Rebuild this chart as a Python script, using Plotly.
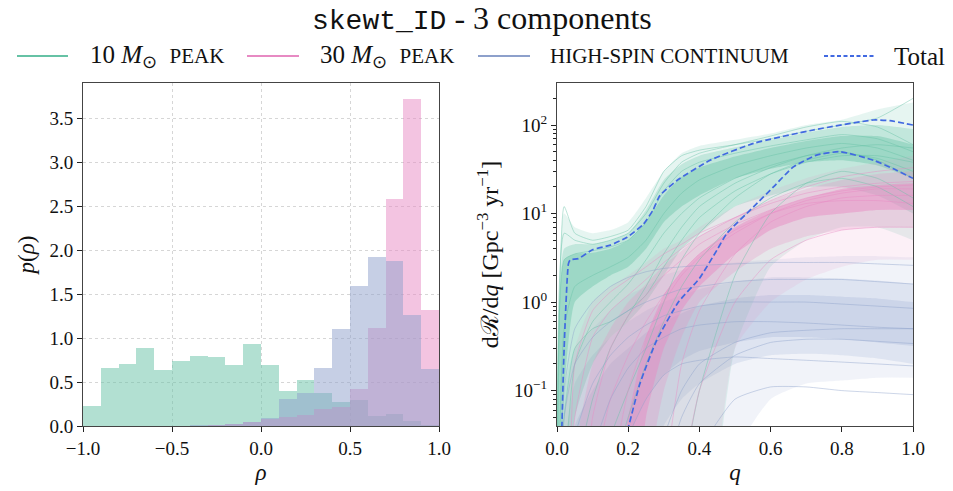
import plotly.graph_objects as go

# ---------------- data ----------------
# left panel: histogram heights p(rho), 20 bins of width 0.1 on [-1, 1]
rho_centers = [-0.95, -0.85, -0.75, -0.65, -0.55, -0.45, -0.35, -0.25, -0.15, -0.05,
               0.05, 0.15, 0.25, 0.35, 0.45, 0.55, 0.65, 0.75, 0.85, 0.95]
hist_10 = [0.23, 0.66, 0.71, 0.89, 0.64, 0.74, 0.80, 0.79, 0.69, 0.93,
           0.69, 0.40, 0.52, 0.37, 0.27, 0.30, 0.11, 0.14, 0.06, 0.01]
hist_30 = [0.00, 0.00, 0.00, 0.00, 0.00, 0.00, 0.00, 0.01, 0.02, 0.04,
           0.08, 0.10, 0.12, 0.19, 0.22, 0.42, 1.12, 2.58, 3.72, 1.32]
hist_hs = [0.00, 0.00, 0.00, 0.00, 0.00, 0.00, 0.01, 0.01, 0.02, 0.05,
           0.09, 0.31, 0.37, 0.66, 1.10, 1.59, 1.92, 1.88, 1.26, 0.65]

# right panel: dR/dq, read at these q values (0.001 = below the plotted range)
q_grid = [0.0, 0.02, 0.05, 0.1, 0.15, 0.2, 0.25, 0.3, 0.35, 0.4, 0.5, 0.6, 0.7, 0.8, 0.9, 1.0]

# envelopes of the sample curves (outer = nearly all curves, mid, core = densest)
g_out_lo = [0.001, 0.001, 0.001, 0.001, 0.001, 0.001, 0.001, 0.001, 0.001, 0.001, 0.3, 2.5, 5, 7, 7, 5]
g_out_hi = [0.001, 10, 7, 6, 6.5, 8, 15, 30, 48, 58, 68, 80, 100, 115, 150, 180]
g_mid_lo = [0.001, 0.001, 0.05, 0.2, 0.4, 0.6, 1.0, 2, 4, 6, 12, 16, 20, 20, 16, 10]
g_mid_hi = [0.001, 4, 4.5, 4.5, 5, 6, 11, 24, 36, 45, 56, 68, 82, 95, 100, 90]
g_core_lo = [0.001, 0.1, 1.0, 1.5, 2.0, 2.5, 4, 8, 12, 16, 25, 32, 38, 40, 35, 25]
g_core_hi = [0.001, 3, 3.5, 3.6, 4, 5, 8, 16, 26, 33, 44, 55, 66, 75, 75, 60]

p_out_lo = [0.001, 0.001, 0.001, 0.001, 0.001, 0.001, 0.001, 0.001, 0.001, 0.001, 0.3, 1.0, 1.8, 2.5, 3, 3]
p_out_hi = [0.001, 0.05, 0.3, 1.0, 1.5, 2.0, 2.8, 4, 5, 7, 12, 18, 25, 32, 38, 45]
p_mid_lo = [0.001, 0.001, 0.001, 0.001, 0.001, 0.001, 0.01, 0.1, 0.4, 1.0, 2.2, 4, 5.5, 6.5, 7, 7]
p_mid_hi = [0.001, 0.001, 0.02, 0.2, 0.5, 1.0, 1.6, 2.6, 3.8, 5.5, 9, 14, 19, 24, 28, 30]
p_core_lo = [0.001, 0.001, 0.001, 0.001, 0.001, 0.001, 0.05, 0.3, 0.8, 1.5, 3.5, 6.5, 9, 10, 11, 11]
p_core_hi = [0.001, 0.001, 0.001, 0.001, 0.005, 0.05, 0.4, 1.2, 2.2, 3.5, 7, 11, 15, 19, 21, 22]

h_out_lo = [0.001, 0.001, 0.001, 0.001, 0.001, 0.001, 0.001, 0.001, 0.001, 0.001, 0.02, 0.08, 0.12, 0.13, 0.14, 0.14]
h_out_hi = [0.001, 0.1, 0.3, 0.5, 0.8, 1.2, 1.5, 2.0, 2.3, 2.5, 2.8, 3.0, 3.2, 3.3, 3.3, 3.2]
h_mid_lo = [0.001, 0.001, 0.001, 0.001, 0.001, 0.001, 0.01, 0.04, 0.08, 0.12, 0.2, 0.25, 0.26, 0.25, 0.23, 0.2]
h_mid_hi = [0.001, 0.02, 0.12, 0.25, 0.4, 0.6, 0.8, 1.0, 1.2, 1.4, 1.7, 1.9, 1.9, 1.85, 1.75, 1.6]
h_core_lo = [0.001, 0.001, 0.001, 0.001, 0.01, 0.03, 0.08, 0.15, 0.22, 0.28, 0.35, 0.4, 0.4, 0.38, 0.35, 0.32]
h_core_hi = [0.001, 0.005, 0.04, 0.1, 0.2, 0.3, 0.45, 0.6, 0.75, 0.9, 1.1, 1.2, 1.2, 1.15, 1.1, 1.0]

# a few individual sample curves per component
g_curves = [
    [0.001, 12, 6, 5, 5.5, 6.5, 12, 30, 45, 52, 60, 70, 85, 100, 120, 200],
    [0.001, 3, 3.5, 3.8, 4.2, 5, 8, 18, 30, 38, 48, 58, 68, 78, 70, 50],
    [0.001, 0.5, 1.5, 2.0, 2.5, 3.2, 5, 10, 17, 24, 35, 45, 55, 62, 55, 40],
    [0.001, 0.01, 0.2, 0.6, 1.0, 1.6, 3, 6, 10, 15, 25, 35, 45, 50, 40, 25],
    [0.001, 0.001, 0.01, 0.08, 0.3, 0.7, 1.5, 3.5, 7, 12, 22, 33, 45, 55, 60, 55],
    [0.001, 0.001, 0.001, 0.005, 0.03, 0.1, 0.3, 1, 3, 6, 15, 28, 40, 48, 42, 30],
    [0.001, 0.001, 0.001, 0.001, 0.001, 0.001, 0.001, 0.001, 0.01, 0.1, 2, 10, 22, 30, 25, 15],
    [0.001, 6, 5, 4.5, 5, 6, 10, 22, 38, 48, 60, 75, 95, 110, 95, 60],
    [0.001, 0.001, 0.001, 0.001, 0.01, 0.05, 0.2, 0.6, 1.5, 3, 8, 15, 22, 25, 20, 12],
    [0.001, 0.05, 0.3, 0.5, 0.6, 0.8, 1.2, 2.5, 5, 9, 18, 28, 38, 45, 45, 38],
]
p_curves = [
    [0.001, 0.001, 0.2, 0.8, 1.3, 1.8, 2.5, 3.5, 4.5, 6, 9, 13, 17, 20, 22, 23],
    [0.001, 0.001, 0.001, 0.05, 0.3, 0.7, 1.2, 2, 3, 4.5, 7.5, 11, 15, 18, 20, 21],
    [0.001, 0.001, 0.001, 0.001, 0.01, 0.1, 0.4, 1, 2, 3.2, 6, 10, 14, 17, 19, 19],
    [0.001, 0.001, 0.001, 0.001, 0.001, 0.001, 0.001, 0.01, 0.2, 0.8, 3.5, 8, 12, 15, 16, 16],
    [0.001, 0.001, 0.05, 0.4, 0.8, 1.2, 1.8, 2.8, 4, 5.5, 9, 14, 20, 26, 30, 33],
    [0.001, 0.001, 0.001, 0.001, 0.001, 0.001, 0.001, 0.001, 0.01, 0.1, 1, 3, 5, 6.5, 7, 7],
    [0.001, 0.001, 0.001, 0.01, 0.08, 0.25, 0.6, 1.2, 2.2, 3.5, 6.5, 10, 13, 14, 14, 13],
]
h_curves = [
    [0.001, 0.05, 0.2, 0.4, 0.6, 0.8, 1.0, 1.2, 1.4, 1.5, 1.7, 1.8, 1.8, 1.8, 1.7, 1.6],
    [0.001, 0.001, 0.03, 0.12, 0.25, 0.4, 0.55, 0.7, 0.8, 0.9, 1.0, 1.0, 1.0, 0.95, 0.9, 0.85],
    [0.001, 0.001, 0.001, 0.02, 0.08, 0.18, 0.3, 0.4, 0.5, 0.55, 0.6, 0.6, 0.58, 0.55, 0.52, 0.5],
    [0.001, 0.001, 0.001, 0.001, 0.001, 0.001, 0.001, 0.01, 0.05, 0.12, 0.25, 0.35, 0.38, 0.38, 0.36, 0.34],
    [0.001, 0.1, 0.5, 1.0, 1.5, 1.9, 2.2, 2.4, 2.5, 2.6, 2.7, 2.8, 2.8, 2.8, 2.7, 2.6],
    [0.001, 0.001, 0.001, 0.001, 0.001, 0.001, 0.001, 0.001, 0.001, 0.02, 0.08, 0.11, 0.11, 0.1, 0.095, 0.09],
    [0.001, 0.001, 0.001, 0.001, 0.005, 0.03, 0.08, 0.15, 0.2, 0.22, 0.24, 0.23, 0.22, 0.21, 0.2, 0.19],
    [0.001, 0.001, 0.001, 0.001, 0.001, 0.001, 0.005, 0.03, 0.1, 0.2, 0.35, 0.45, 0.48, 0.5, 0.5, 0.5],
]

# total: dashed credible bounds
tot_hi_q = [0.013, 0.02, 0.032, 0.037, 0.06, 0.1, 0.15, 0.197, 0.243, 0.27, 0.289, 0.336, 0.43, 0.552, 0.72, 0.889, 0.935, 1.0]
tot_hi_v = [0.03, 0.3, 2.7, 3.0, 3.1, 3.9, 4.4, 5.4, 7.6, 11, 16, 23.5, 40, 62, 88, 114, 112, 100]
tot_lo_q = [0.198, 0.233, 0.28, 0.341, 0.40, 0.449, 0.477, 0.552, 0.608, 0.664, 0.729, 0.795, 0.889, 0.945, 1.0]
tot_lo_v = [0.035, 0.12, 0.37, 1.0, 1.85, 3.85, 5.96, 11.9, 20, 33.7, 45.7, 50, 40, 32, 25]

log_tickvals = [0.1, 1, 10, 100]
log_ticktext = ["10<sup>−1</sup>", "10<sup>0</sup>", "10<sup>1</sup>", "10<sup>2</sup>"]
log_minor = [0.05, 0.06, 0.07, 0.08, 0.09, 0.2, 0.3, 0.4, 0.5, 0.6, 0.7, 0.8, 0.9,
             2, 3, 4, 5, 6, 7, 8, 9, 20, 30, 40, 50, 60, 70, 80, 90, 200, 300]

SC = "<span style='font-size:21px'>%s</span>"
labels = ["10 <i>M</i><sub>⊙</sub>  " + SC % "PEAK",
          "30 <i>M</i><sub>⊙</sub>  " + SC % "PEAK",
          SC % "HIGH-SPIN CONTINUUM",
          "Total"]

# ---------------- style ----------------
C_G = (102, 194, 165)
C_P = (231, 138, 195)
C_H = (141, 160, 203)
C_TOT = "#4169E1"
FONT = "Liberation Serif"


def rgba(c, a):
    return "rgba(%d,%d,%d,%.3f)" % (c[0], c[1], c[2], a)


fig = go.Figure()

# histograms
for vals, col in [(hist_10, C_G), (hist_30, C_P), (hist_hs, C_H)]:
    fig.add_trace(go.Bar(x=rho_centers, y=vals, width=0.1, marker=dict(color=rgba(col, 0.5), line_width=0),
                         xaxis="x", yaxis="y", showlegend=False, hoverinfo="skip"))


def band(lo, hi, col, a):
    fig.add_trace(go.Scatter(x=q_grid, y=lo, mode="lines", line=dict(width=0, shape="spline", smoothing=0.5),
                             xaxis="x2", yaxis="y2", showlegend=False, hoverinfo="skip"))
    fig.add_trace(go.Scatter(x=q_grid, y=hi, mode="lines", line=dict(width=0, shape="spline", smoothing=0.5),
                             fill="tonexty", fillcolor=rgba(col, a),
                             xaxis="x2", yaxis="y2", showlegend=False, hoverinfo="skip"))


band(h_out_lo, h_out_hi, C_H, 0.12)
band(h_mid_lo, h_mid_hi, C_H, 0.18)
band(h_core_lo, h_core_hi, C_H, 0.22)
band(g_out_lo, g_out_hi, C_G, 0.16)
band(g_mid_lo, g_mid_hi, C_G, 0.28)
band(g_core_lo, g_core_hi, C_G, 0.40)
band(p_out_lo, p_out_hi, C_P, 0.13)
band(p_mid_lo, p_mid_hi, C_P, 0.26)
band(p_core_lo, p_core_hi, C_P, 0.48)

for curves, col in [(g_curves, C_G), (p_curves, C_P), (h_curves, C_H)]:
    for cv in curves:
        fig.add_trace(go.Scatter(x=q_grid, y=cv, mode="lines",
                                 line=dict(color=rgba(col, 0.55), width=0.8, shape="spline", smoothing=0.5),
                                 xaxis="x2", yaxis="y2", showlegend=False, hoverinfo="skip"))

for qq, vv in [(tot_hi_q, tot_hi_v), (tot_lo_q, tot_lo_v)]:
    fig.add_trace(go.Scatter(x=qq, y=vv, mode="lines",
                             line=dict(color=C_TOT, width=1.7, dash="6px,3px", shape="spline", smoothing=0.5),
                             xaxis="x2", yaxis="y2", showlegend=False, hoverinfo="skip"))

W, H = 953, 491
axis_common = dict(showline=True, mirror=True, linecolor="#444444", linewidth=1,
                   ticks="outside", ticklen=5, tickwidth=1, tickcolor="#222222", automargin=False,
                   tickfont=dict(family=FONT, size=19, color="#111111"), zeroline=False)

fig.update_layout(
    width=W, height=H, margin=dict(l=0, r=0, t=0, b=0),
    paper_bgcolor="white", plot_bgcolor="white", barmode="overlay", bargap=0,
    font=dict(family=FONT, color="#111111"),
    xaxis=dict(domain=[83 / W, 439 / W], range=[-1, 1], tickvals=[-1, -0.5, 0, 0.5, 1],
               ticktext=["−1.0", "−0.5", "0.0", "0.5", "1.0"],
               showgrid=True, gridcolor="#d6d6d6", griddash="dot", gridwidth=1,
               title=dict(text="<i>ρ</i>", font=dict(size=23), standoff=6), anchor="y", **axis_common),
    yaxis=dict(domain=[1 - 426 / H, 1 - 83 / H], range=[0, 3.9], dtick=0.5, tickformat=".1f",
               showgrid=True, gridcolor="#d6d6d6", griddash="dot", gridwidth=1,
               title=dict(text="<i>p</i>(<i>ρ</i>)", font=dict(size=23), standoff=8), anchor="x", **axis_common),
    xaxis2=dict(domain=[557 / W, 913 / W], range=[0, 1], dtick=0.2, tickformat=".1f", showgrid=False,
                title=dict(text="<i>q</i>", font=dict(size=23), standoff=6), anchor="y2", **axis_common),
    yaxis2=dict(domain=[1 - 426 / H, 1 - 83 / H], type="log", range=[-1.40, 2.475],
                tickmode="array", tickvals=log_tickvals, ticktext=log_ticktext, showgrid=False,
                minor=dict(ticks="outside", ticklen=3, tickcolor="#222222", tickmode="array",
                           tickvals=log_minor, showgrid=False),
                title=dict(text="dℛ/d<i>q</i> [Gpc<sup>−3</sup> yr<sup>−1</sup>]", font=dict(size=24), standoff=8),
                anchor="x2", **axis_common),
)

# title
fig.add_annotation(x=482 / W, y=1 - 19 / H, xref="paper", yref="paper", showarrow=False,
                   xanchor="center", yanchor="middle",
                   text="<span style='font-family:Liberation Mono;font-size:28px'>skewt_ID</span> - 3 components",
                   font=dict(family=FONT, size=32, color="#111111"))

# manual legend
leg_y = 1 - 56 / H
leg_items = [
    (17, 68, 88, rgba(C_G, 1.0), "solid", labels[0]),
    (247, 299, 318, rgba(C_P, 1.0), "solid", labels[1]),
    (478, 530, 548, rgba(C_H, 1.0), "solid", labels[2]),
    (824, 874, 892, C_TOT, "4px,2.5px", labels[3]),
]
for x0, x1, xt, col, dash, lab in leg_items:
    fig.add_shape(type="line", xref="paper", yref="paper", x0=x0 / W, x1=x1 / W, y0=leg_y, y1=leg_y,
                  line=dict(color=col, width=2, dash=dash))
    fig.add_annotation(x=xt / W, y=leg_y, xref="paper", yref="paper", showarrow=False,
                       xanchor="left", yanchor="middle", text=lab,
                       font=dict(family=FONT, size=25, color="#111111"))

fig.write_html("out.html")
